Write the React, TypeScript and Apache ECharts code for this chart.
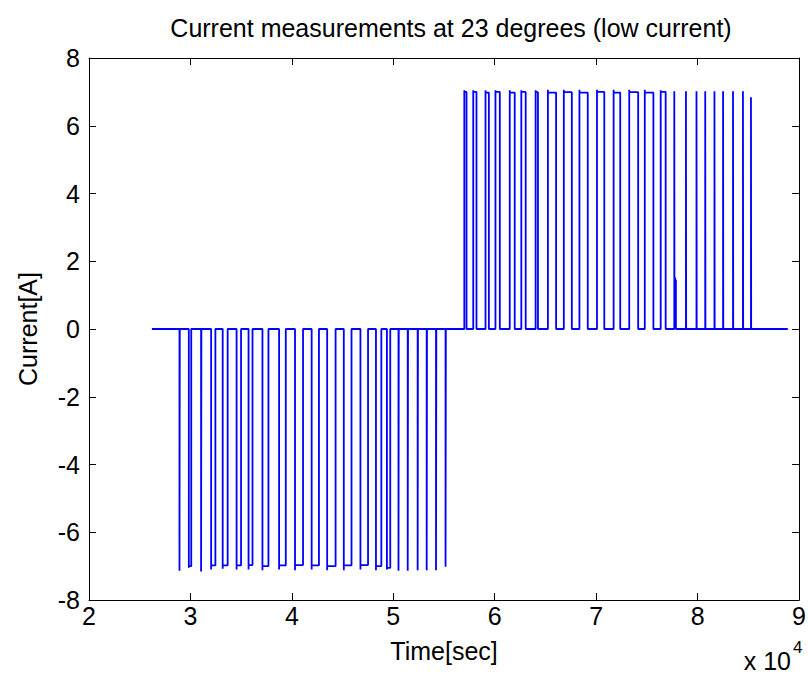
import React, { useEffect, useRef } from "react";
import * as echarts from "echarts";

// Time axis (seconds) and current levels
const xTicks = [20000, 30000, 40000, 50000, 60000, 70000, 80000, 90000];
const yTicks = [-8, -6, -4, -2, 0, 2, 4, 6, 8];

const traceStart = 26200;
const traceEnd = 88890;

// Negative (discharge) pulses
const negStart = [28920, 29840, 31050, 32040, 33180, 34550, 35730, 37100, 38740, 40310, 41950, 43480, 45120, 46760, 48290, 49370, 50510, 51420, 52400, 53290, 54210, 55150];
const negEnd = [28950, 30080, 31080, 32460, 33670, 34990, 36120, 37690, 39400, 41100, 42670, 44310, 45880, 47510, 48820, 49700, 50540, 51450, 52430, 53320, 54240, 55180];
const negPeak = [-7.14, -7.05, -7.16, -7.1, -7.08, -7.1, -7.1, -7.12, -7.1, -7.12, -7.1, -7.12, -7.12, -7.1, -7.12, -7.1, -7.14, -7.14, -7.12, -7.12, -7.12, -7.02];
const negLevel = [-7.14, -7.0, -7.16, -6.98, -6.98, -6.98, -6.97, -7.0, -6.98, -6.97, -6.98, -7.0, -6.98, -6.97, -7.0, -7.05, -7.14, -7.14, -7.12, -7.12, -7.12, -7.02];

// Positive (charge) pulses
const posStart = [57000, 57880, 59090, 60070, 61480, 62620, 64030, 65240, 66810, 68350, 70080, 71720, 73260, 74790, 76360, 77700, 77780, 78850, 79890, 80750, 81660, 82510, 83490, 84470, 85260];
const posEnd = [57220, 58200, 59420, 60500, 61970, 63050, 64260, 66050, 67600, 69170, 70800, 72370, 74140, 75640, 76850, 77720, 77860, 78870, 79910, 80770, 81680, 82530, 83510, 84490, 85280];
const posPeak = [7.05, 7.05, 7.05, 7.05, 7.05, 7.05, 7.05, 7.06, 7.06, 7.06, 7.06, 7.06, 7.06, 7.06, 7.05, 7.02, 1.52, 7.02, 7.02, 7.02, 7.02, 7.02, 7.02, 7.02, 6.84];
const posLevel = [7.0, 7.0, 6.98, 7.0, 6.98, 7.0, 6.99, 6.98, 6.99, 6.98, 7.0, 6.98, 6.99, 6.98, 7.0, 7.02, 1.45, 7.02, 7.02, 7.02, 7.02, 7.02, 7.02, 7.02, 6.84];

function buildTrace(): number[][] {
  const pts: number[][] = [[traceStart, 0]];
  const add = (s: number[], e: number[], p: number[], l: number[]) => {
    for (let i = 0; i < s.length; i++) {
      pts.push([s[i], 0], [s[i], p[i]], [s[i], l[i]], [e[i], l[i]], [e[i], 0]);
    }
  };
  add(negStart, negEnd, negPeak, negLevel);
  add(posStart, posEnd, posPeak, posLevel);
  pts.push([traceEnd, 0]);
  return pts;
}

const FONT = "Liberation Sans, Arial, sans-serif";
const FS = 25;

export default function App() {
  const ref = useRef<HTMLDivElement>(null);
  useEffect(() => {
    if (!ref.current) return;
    const chart = echarts.init(ref.current, null, { renderer: "svg" });
    const axisCommon = {
      type: "value" as const,
      axisLine: { show: true, onZero: false, lineStyle: { color: "#000", width: 1 } },
      axisTick: { show: true, inside: true, length: 7, lineStyle: { color: "#000" } },
      splitLine: { show: false },
    };
    chart.setOption({
      animation: false,
      backgroundColor: "#fff",
      textStyle: { fontFamily: FONT },
      grid: { left: 89, right: 6, top: 58, bottom: 75, containLabel: false },
      title: {
        text: "Current measurements at 23 degrees (low current)",
        left: 446,
        top: 10,
        textAlign: "center",
        textStyle: { fontFamily: FONT, fontSize: FS, fontWeight: "normal", color: "#000" },
      },
      xAxis: [
        {
          ...axisCommon,
          position: "bottom",
          min: 20000,
          max: 90000,
          interval: 10000,
          axisLabel: {
            color: "#000",
            fontSize: FS,
            fontFamily: FONT,
            margin: 3,
            formatter: (v: number) => (xTicks.includes(v) ? String(v / 10000) : ""),
          },
          name: "Time[sec]",
          nameLocation: "middle",
          nameGap: 38,
          nameTextStyle: { color: "#000", fontSize: FS, fontFamily: FONT },
        },
        {
          ...axisCommon,
          position: "top",
          min: 20000,
          max: 90000,
          interval: 10000,
          axisLabel: { show: false },
        },
      ],
      yAxis: [
        {
          ...axisCommon,
          position: "left",
          min: -8,
          max: 8,
          interval: 2,
          axisLabel: {
            color: "#000",
            fontSize: FS,
            fontFamily: FONT,
            margin: 9,
            formatter: (v: number) => (yTicks.includes(v) ? String(v) : ""),
          },
          name: "Current[A]",
          nameLocation: "middle",
          nameGap: 49,
          nameRotate: 90,
          nameTextStyle: { color: "#000", fontSize: FS, fontFamily: FONT },
        },
        {
          ...axisCommon,
          position: "right",
          min: -8,
          max: 8,
          interval: 2,
          axisLabel: { show: false },
        },
      ],
      graphic: [
        {
          type: "text",
          x: 791,
          y: 673,
          style: {
            text: "x 10",
            fontSize: FS,
            fontFamily: FONT,
            fill: "#000",
            textAlign: "right",
            textVerticalAlign: "bottom",
          },
        },
        {
          type: "text",
          x: 793,
          y: 639,
          style: {
            text: "4",
            fontSize: 17,
            fontFamily: FONT,
            fill: "#000",
            textAlign: "left",
            textVerticalAlign: "top",
          },
        },
      ],
      series: [
        {
          type: "line",
          data: buildTrace(),
          showSymbol: false,
          symbol: "none",
          lineStyle: { color: "#0000ff", width: 1.8 },
          xAxisIndex: 0,
          yAxisIndex: 0,
        },
      ],
    });
    return () => chart.dispose();
  }, []);
  return <div ref={ref} style={{ position: "fixed", left: 0, top: 0, width: 809, height: 675 }} />;
}
